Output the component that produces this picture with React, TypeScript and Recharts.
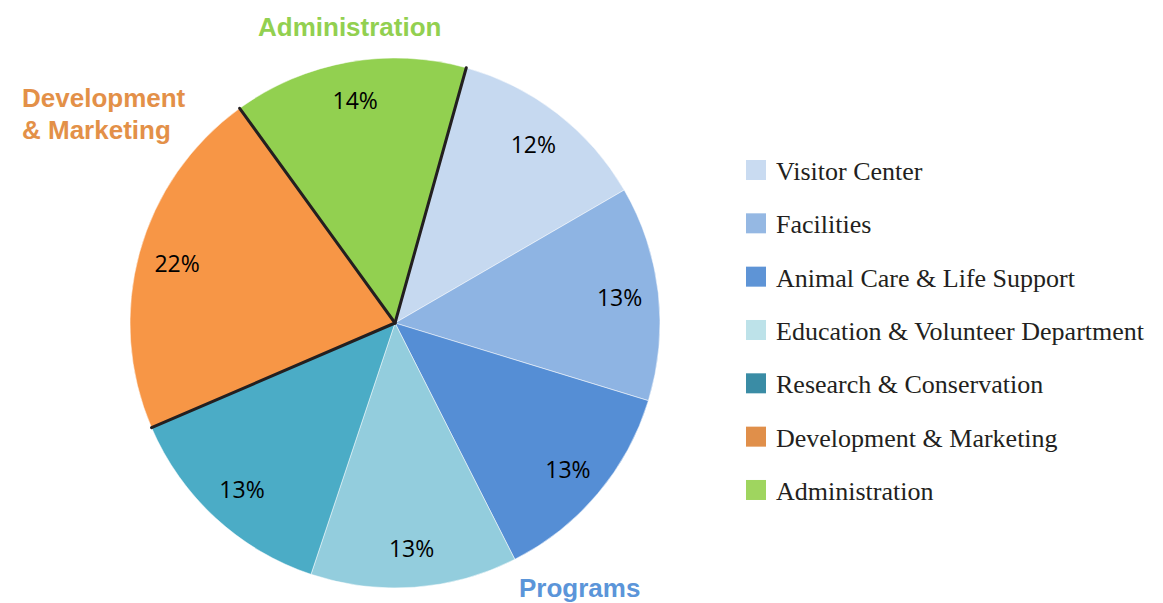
import React from 'react';
import { PieChart, Pie, Cell, Legend } from 'recharts';

const categories = [
  'Visitor Center',
  'Facilities',
  'Animal Care & Life Support',
  'Education & Volunteer Department',
  'Research & Conservation',
  'Development & Marketing',
  'Administration',
];
const values = [12.3, 13.1, 12.8, 12.6, 13.4, 21.5, 14.3];
const sliceColors = ['#c6d9f0', '#8eb4e3', '#558ed5', '#93cddd', '#4bacc6', '#f79646', '#92d050'];
const legendColors = ['#c9dbf1', '#95b8e3', '#5e94d6', '#bde2e9', '#3a8ca5', '#e08f4a', '#9fd55f'];
const groupLabels = ['Administration', 'Development', '& Marketing', 'Programs'];

const data = categories.map((name, i) => ({ name, value: values[i] }));

const RAD = Math.PI / 180;
const LINE_COLOR = '#231f20';

const renderLabel = (props: any) => {
  const { cx, cy, midAngle, outerRadius, startAngle, endAngle, value, index } = props;
  const r = outerRadius * 0.853;
  const x = cx + r * Math.cos(-midAngle * RAD);
  const y = cy + r * Math.sin(-midAngle * RAD);
  const edge = (a: number) => ({
    x: cx + outerRadius * Math.cos(-a * RAD),
    y: cy + outerRadius * Math.sin(-a * RAD),
  });
  const angles: number[] = [];
  if (index === 5) angles.push(startAngle, endAngle);
  if (index === 6) angles.push(endAngle);
  return (
    <g>
      {angles.map((a, k) => {
        const p = edge(a);
        return (
          <line key={k} x1={cx} y1={cy} x2={p.x} y2={p.y} stroke={LINE_COLOR} strokeWidth={3} strokeLinecap="round" />
        );
      })}
      <text
        x={x}
        y={y}
        textAnchor="middle"
        dominantBaseline="central"
        style={{ fontFamily: '"Open Sans", sans-serif', fontSize: 23 }}
        fill="#000"
      >
        {`${Math.round(value)}%`}
      </text>
    </g>
  );
};

const renderLegend = () => (
  <svg width={423} height={360} style={{ display: 'block' }}>
    {categories.map((c, i) => (
      <g key={c}>
        <rect x={6} y={10 + i * 53.33} width={20} height={20} fill={legendColors[i]} />
        <text
          x={36}
          y={30 + i * 53.33}
          style={{ fontFamily: '"Liberation Serif", "Times New Roman", serif', fontSize: 26 }}
          fill="#231f20"
        >
          {c}
        </text>
      </g>
    ))}
  </svg>
);

export default function App() {
  return (
    <div style={{ position: 'absolute', left: 0, top: 0, width: 1163, height: 603, background: '#fff' }}>
      <PieChart width={1163} height={603} margin={{ top: 0, right: 0, bottom: 0, left: 0 }}>
        <Pie
          data={data}
          dataKey="value"
          nameKey="name"
          cx={395}
          cy={323}
          outerRadius={265}
          startAngle={74.4}
          endAngle={-285.6}
          stroke="#ffffff"
          strokeWidth={0.5}
          label={renderLabel}
          labelLine={false}
          isAnimationActive={false}
        >
          {data.map((d, i) => (
            <Cell key={d.name} fill={sliceColors[i]} />
          ))}
        </Pie>
        <Legend
          layout="vertical"
          align="right"
          verticalAlign="middle"
          content={renderLegend}
          wrapperStyle={{ left: 740, top: 150, right: 'auto', width: 423 }}
        />
      </PieChart>
      <svg
        width={1163}
        height={603}
        style={{ position: 'absolute', left: 0, top: 0, pointerEvents: 'none' }}
      >
        <g style={{ fontFamily: '"Liberation Sans", Arial, sans-serif', fontWeight: 'bold', fontSize: 26 }}>
          <text x={258} y={36} fill="#92d050">{groupLabels[0]}</text>
          <text x={22} y={107} fill="#e39048">{groupLabels[1]}</text>
          <text x={22} y={139} fill="#e39048">{groupLabels[2]}</text>
          <text x={519} y={597} fill="#5b95d9">{groupLabels[3]}</text>
        </g>
      </svg>
    </div>
  );
}
